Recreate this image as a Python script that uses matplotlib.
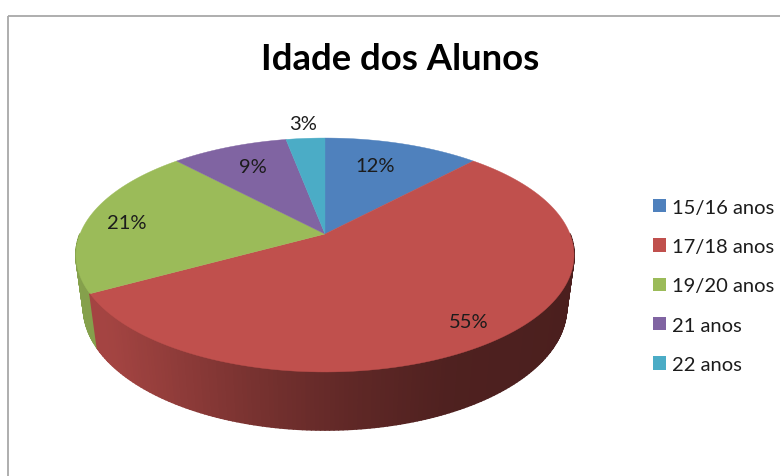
import numpy as np
import matplotlib
matplotlib.use("Agg")
import matplotlib.pyplot as plt
from matplotlib.collections import PolyCollection
from matplotlib.patches import Patch, Polygon, Rectangle

title = "Idade dos Alunos"
categories = ["15/16 anos", "17/18 anos", "19/20 anos", "21 anos", "22 anos"]
values = [12, 55, 21, 9, 3]
colors = ["#4f81bd", "#c0504d", "#9bbb59", "#8064a2", "#4bacc6"]

# label centres in pixels, same order as values
label_pos = [(375, 167), (469, 323), (127, 224), (253, 168), (303, 124)]

# perspective of the pie disc
cx, cy = 325, 235
a, b, k = 245.0, 113.2, 0.1795
depth, shrink = 53.5, 0.03

# side wall darkening against screen x
shade_x = [76, 110, 250, 350, 450, 575]
shade_f = [0.86, 0.85, 0.63, 0.50, 0.41, 0.39]


def rim(theta, bottom=False):
    u, v = np.sin(theta), -np.cos(theta)
    d = depth if bottom else 0.0
    e = shrink if bottom else 0.0
    w = 1 - k * v + e
    return np.column_stack((cx + a * u / w, cy + (b * v + d) / w))


fig = plt.figure(figsize=(7.8, 4.77), dpi=100)
ax = fig.add_axes([0, 0, 1, 1])
ax.set_xlim(0, 780)
ax.set_ylim(477, 0)
ax.axis("off")

# chart frame, open at the right and bottom
ax.add_patch(Rectangle((8, 17), 900, 600, fill=False, ec="#a8a8a8", lw=1.3))

fractions = np.cumsum([0] + values) / sum(values)
angles = fractions * 2 * np.pi

# side wall, split in thin strips for the gradient; the back half stays hidden
polys, faces, order = [], [], []
for i, col in enumerate(colors):
    base = np.array(matplotlib.colors.to_rgb(col))
    steps = max(int(values[i] * 4), 2)
    t = np.linspace(angles[i], angles[i + 1], steps + 1)
    top, low = rim(t), rim(t, bottom=True)
    for j in range(steps):
        v_mid = -np.cos((t[j] + t[j + 1]) / 2)
        if v_mid < 0:
            continue
        polys.append([top[j], top[j + 1], low[j + 1], low[j]])
        mid_x = (top[j][0] + top[j + 1][0]) / 2
        faces.append(base * np.interp(mid_x, shade_x, shade_f))
        order.append(v_mid)
idx = np.argsort(order)
ax.add_collection(PolyCollection([polys[i] for i in idx],
                                 facecolors=[faces[i] for i in idx],
                                 edgecolors=[faces[i] for i in idx],
                                 linewidths=1.2))

# top surface
for i, col in enumerate(colors):
    t = np.linspace(angles[i], angles[i + 1], 120)
    pts = np.vstack(([cx, cy], rim(t)))
    ax.add_patch(Polygon(pts, closed=True, fc=col, ec=col, lw=0.3))

for v, (x, y) in zip(values, label_pos):
    ax.text(x, y, f"{v}%", ha="center", va="center", fontsize=14.5,
            family="Lato", color="#1c1c1c")

ax.text(400.5, 59, title, ha="center", va="center", fontsize=26.3,
        family="Lato", fontweight="bold", color="black")

handles = [Patch(fc=c, ec="none") for c in colors]
ax.legend(handles, categories, loc="upper left", bbox_to_anchor=(0.837, 0.5813),
          frameon=False, prop={"family": "Lato", "size": 14.5}, labelcolor="#1c1c1c",
          handlelength=0.65, handleheight=0.65, handletextpad=0.3,
          labelspacing=1.11, borderpad=0, borderaxespad=0)

fig.savefig("out.png", dpi=100)
plt.close(fig)
